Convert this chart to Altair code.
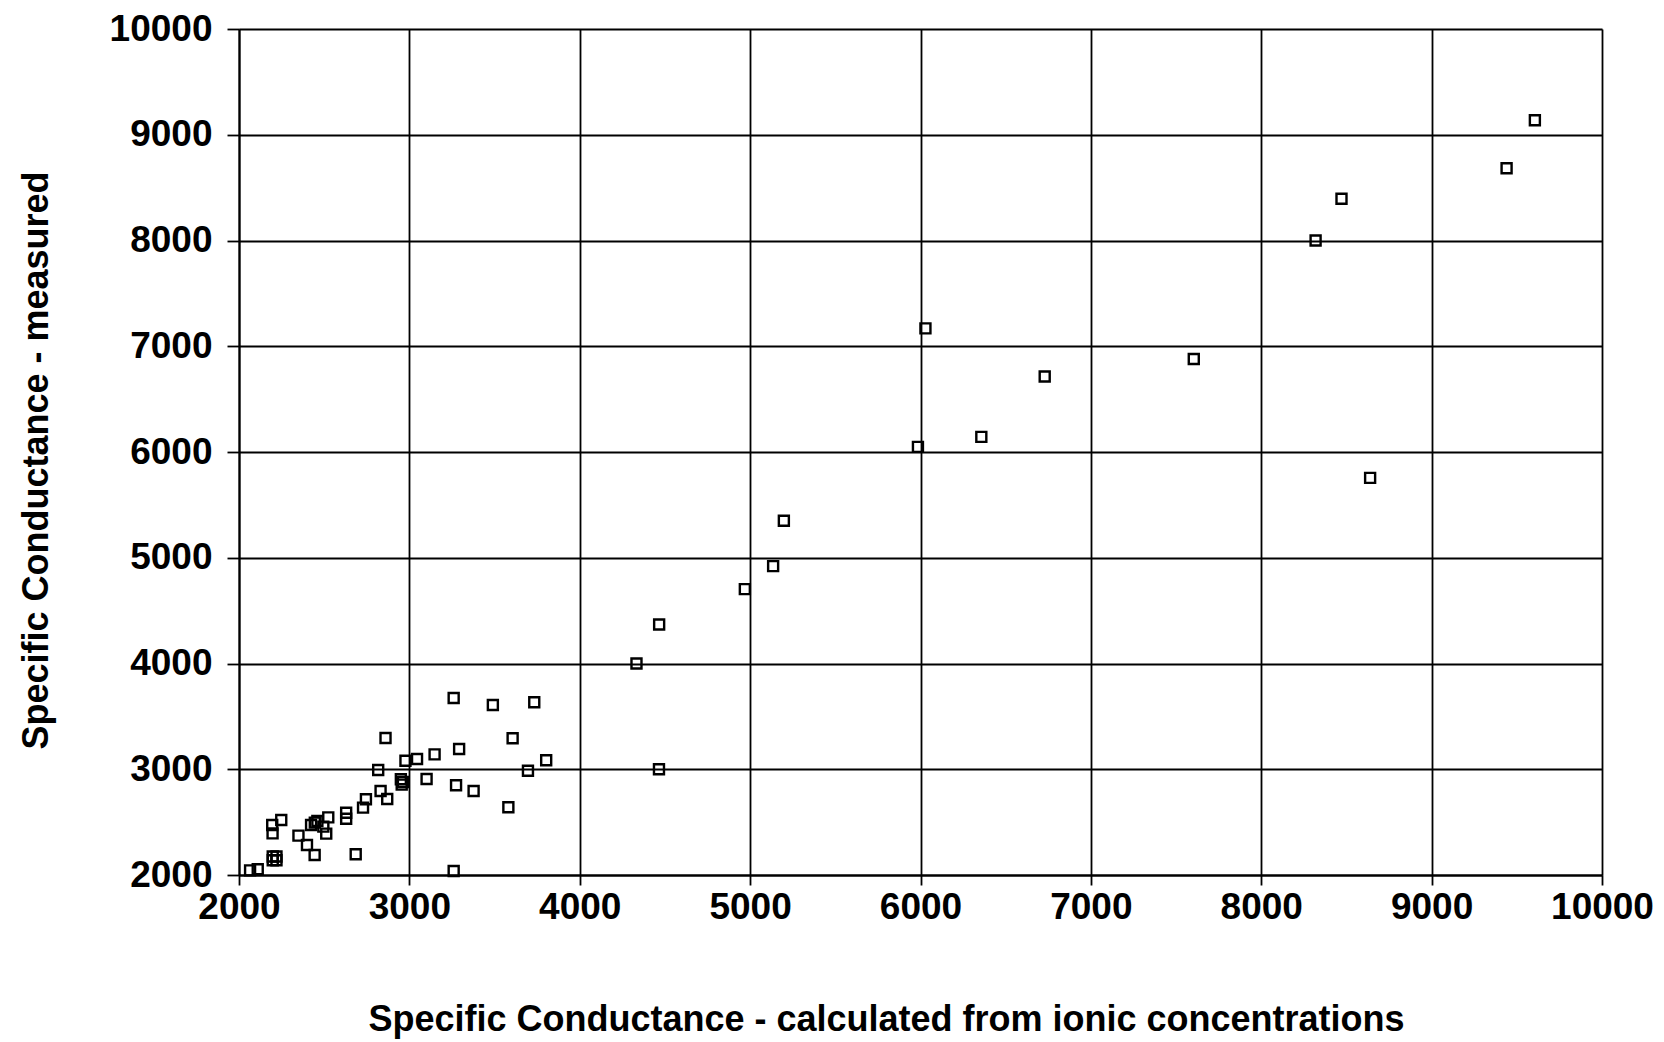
import altair as alt
import pandas as pd

# Specific conductance: calculated (x) vs measured (y)
calc = [
    3260, 3490, 3733, 2860, 3606, 3292, 3148, 3045, 2977, 3803,
    2817, 3696, 2950, 2962, 2955, 3101, 3274, 3377, 3581, 2831,
    2870, 2745, 2728, 2629, 2629, 2524, 2423, 2445, 2460, 2495,
    2512, 2248, 2195, 2197, 2349, 2399, 2444, 2685, 2198, 2220,
    2198, 2220, 2065, 2110, 3260,
    4333, 4466, 4465, 4969, 5135, 5198, 5985, 6029, 6357, 6729,
    7604, 8319, 8471, 8639, 9440, 9606,
]
measured = [
    3674, 3608, 3633, 3296, 3293, 3191, 3141, 3097, 3081, 3085,
    2993, 2986, 2905, 2880, 2855, 2908, 2848, 2794, 2640, 2794,
    2719, 2716, 2637, 2589, 2532, 2545, 2473, 2495, 2510, 2457,
    2391, 2520, 2473, 2394, 2372, 2284, 2189, 2196, 2175, 2175,
    2140, 2140, 2044, 2054, 2038,
    4000, 4369, 3000, 4703, 4921, 5350, 6048, 7169, 6143, 6714,
    6880, 8000, 8395, 5755, 8683, 9137,
]
ticks = [2000, 3000, 4000, 5000, 6000, 7000, 8000, 9000, 10000]

df = pd.DataFrame({"calc": calc, "measured": measured})

FONT = "Liberation Sans"

common = dict(
    values=ticks,
    format="d",
    grid=True,
    gridColor="black",
    gridWidth=1.8,
    gridOpacity=1,
    domainColor="black",
    domainWidth=2,
    tickColor="black",
    tickWidth=1.8,
    labelFont=FONT,
    labelFontSize=37,
    labelFontWeight="bold",
    labelColor="black",
    labelFlush=False,
    labelOverlap=False,
    titleFont=FONT,
    titleFontSize=36,
    titleFontWeight="bold",
    titleColor="black",
    titleAlign="center",
    titleBaseline="alphabetic",
)

chart = (
    alt.Chart(df)
    .mark_point(shape="square", filled=False, size=100, strokeWidth=2.4, color="black", opacity=1)
    .encode(
        x=alt.X(
            "calc:Q",
            scale=alt.Scale(domain=[2000, 10000], nice=False, zero=False),
            axis=alt.Axis(
                title="Specific Conductance - calculated from ionic concentrations",
                tickSize=10,
                labelPadding=4,
                titleX=647,
                titleY=155,
                **common,
            ),
        ),
        y=alt.Y(
            "measured:Q",
            scale=alt.Scale(domain=[2000, 10000], nice=False, zero=False),
            axis=alt.Axis(
                title="Specific Conductance - measured",
                tickSize=12,
                labelPadding=15,
                titleAngle=270,
                titleX=-192,
                titleY=431,
                **common,
            ),
        ),
    )
    .properties(
        width=1363,
        height=846,
        autosize=alt.AutoSizeParams(type="none"),
        padding={"left": 231, "top": 21, "right": 54, "bottom": 166},
    )
    .configure_view(stroke="black", strokeWidth=1.8)
    .configure(background="white")
)

chart.save("out.html", embed_options={"renderer": "svg", "actions": False})
